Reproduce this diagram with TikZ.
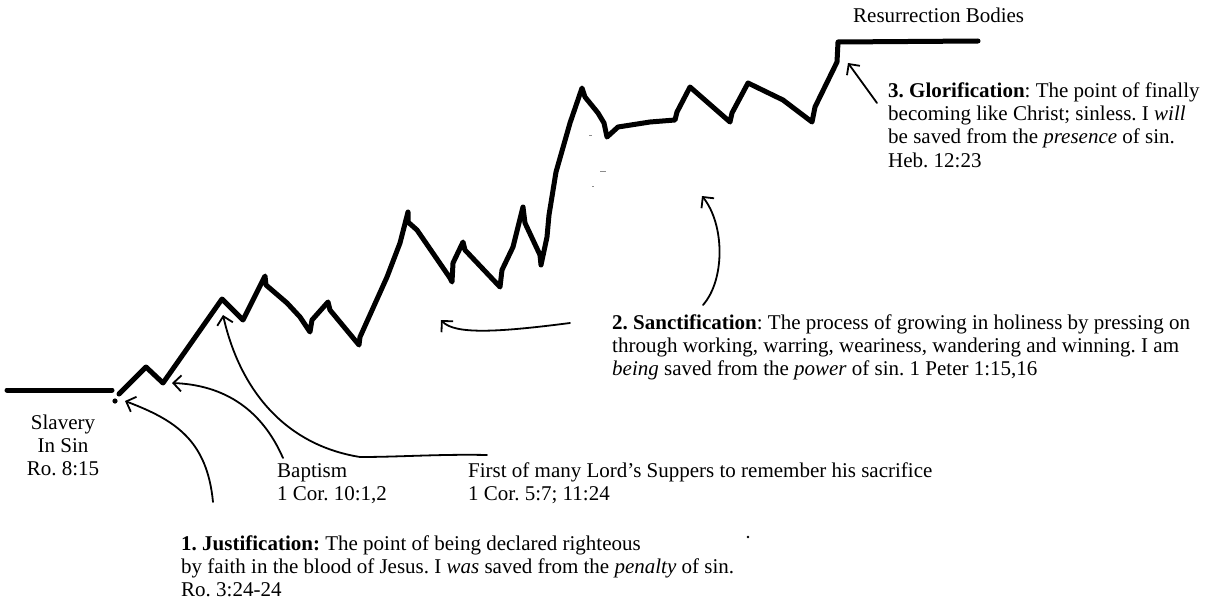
\documentclass[tikz,border=0pt]{standalone}
\usepackage{fontspec}
\setmainfont{Liberation Serif}
\usetikzlibrary{arrows.meta}
\frenchspacing
\begin{document}
\begin{tikzpicture}[x=1pt,y=-1pt,
  ridge/.style={line width=5pt, line cap=round, line join=round},
  pointer/.style={line width=1.8pt, line cap=round, -{Straight Barb[length=8pt,width=16pt]}},
  txt/.style={inner sep=0pt, anchor=north west, align=left, font=\fontsize{21}{23.4}\selectfont\frenchspacing},
  speck/.style={line width=1pt, draw=black!45}
]
\useasboundingbox (0,0) rectangle (1209,602);

% ground lines and the climb
\draw[ridge] (7,390) -- (112,390);
\fill (115,401) circle (2.6);
\draw[ridge] (119,394) -- (146,367) -- (163,383) -- (222,299) -- (243,320) -- (265,276) -- (266,285)
  -- (287,303) -- (300,317) -- (310,332) -- (312,320) -- (328,302) -- (330,310) -- (359,345)
  -- (360,337) -- (387,277) -- (400,243) -- (408,212) -- (408,222) -- (417,230) -- (450,278)
  -- (452,282) -- (453,263) -- (463,242) -- (465,250) -- (500,287) -- (502,270) -- (513,247)
  -- (523,207) -- (525,223) -- (540,255) -- (541,265) -- (547,237) -- (549,215) -- (556,172)
  -- (570,123) -- (582,88) -- (585,97) -- (598,113) -- (604,123) -- (607,137) -- (618,127)
  -- (650,122) -- (675,120) -- (677,112) -- (690,87) -- (730,122) -- (732,113) -- (748,83)
  -- (783,100) -- (812,122) -- (815,107) -- (837,62) -- (838,42) -- (978,41);

% small specks
\draw[speck] (589,135) -- (592,135);
\draw[speck] (600,171) -- (606,171);
\draw[speck] (592,186) -- (594,186);
\fill (748,537) circle (1.3);

% texts
\node[txt, anchor=base west] (res) at (853,23) {Resurrection Bodies};
\node[txt] (glor) at (888,80.6) {\strut\textbf{3. Glorification}: The point of finally\\
  becoming like Christ; sinless. I \textit{will}\\
  be saved from the \textit{presence} of sin.\\
  Heb. 12:23};
\node[txt] (sanct) at (612,312.6) {\strut\textbf{2. Sanctification}: The process of growing in holiness by pressing on\\
  through working, warring, weariness, wandering and winning. I am\\
  \textit{being} saved from the \textit{power} of sin. 1 Peter 1:15,16};
\node[txt, anchor=north, align=center] (slav) at (63,412.6) {\strut Slavery\\In Sin\\Ro. 8:15};
\node[txt] (bapt) at (277,460.6) {\strut Baptism\\1 Cor. 10:1,2};
\node[txt] (lord) at (468,460.6) {\strut First of many Lord’s Suppers to remember his sacrifice\\1 Cor. 5:7; 11:24};
\node[txt] (just) at (181,533.6) {\strut\textbf{1. Justification:} The point of being declared righteous\\
  by faith in the blood of Jesus. I \textit{was} saved from the \textit{penalty} of sin.\\
  Ro. 3:24-24};

% arrow ends
\coordinate (jtail) at (213,502);  \coordinate (jtip) at (125,401);
\coordinate (btail) at (283,458);  \coordinate (btip) at (172,383);
\coordinate (ltail) at (487,455);  \coordinate (lmid) at (360,457); \coordinate (ltip) at (223,315);
\coordinate (s1tail) at (570,323); \coordinate (s1tip) at (441,320);
\coordinate (s2tail) at (703,305); \coordinate (s2tip) at (702,196);
\coordinate (gtail) at (877,103);  \coordinate (gtip) at (848,63);

\draw[pointer] (jtail) .. controls (207,440) and (175,420) .. (jtip);
\draw[pointer] (btail) .. controls (262,410) and (225,385) .. (btip);
\draw[pointer] (ltail) .. controls (440,454) and (400,457) .. (lmid)
  .. controls (285,445) and (240,390) .. (ltip);
\draw[pointer] (s1tail) .. controls (500,332) and (455,335) .. (s1tip);
\draw[pointer] (s2tail) .. controls (725,280) and (725,225) .. (s2tip);
\draw[pointer] (gtail) -- (gtip);
\end{tikzpicture}
\end{document}
